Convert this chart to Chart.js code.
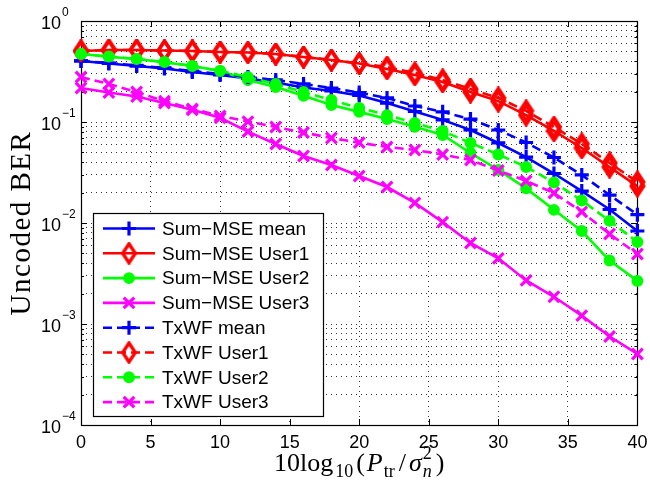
<!DOCTYPE html>
<html><head><meta charset="utf-8">
<script src="https://cdn.jsdelivr.net/npm/chart.js@4.4.1/dist/chart.umd.min.js"></script>
<style>html,body{margin:0;padding:0;background:#fff}</style>
</head><body>
<canvas id="c" width="650" height="482"></canvas>
<script>
// ---- data ----
const snr = [0,2,4,6,8,10,12,14,16,18,20,22,24,26,28,30,32,34,36,38,40];
const sumMseMean  = [0.402,0.380,0.358,0.339,0.313,0.292,0.270,0.246,0.220,0.203,0.183,0.154,0.127,0.105,0.0833,0.0620,0.0450,0.0309,0.0207,0.0136,0.00833];
const sumMseUser1 = [0.505,0.516,0.516,0.510,0.505,0.493,0.488,0.471,0.440,0.411,0.380,0.335,0.292,0.249,0.198,0.161,0.117,0.0815,0.0553,0.0358,0.0232];
const sumMseUser2 = [0.471,0.443,0.421,0.390,0.358,0.320,0.261,0.222,0.182,0.147,0.126,0.107,0.0898,0.0743,0.0493,0.0335,0.0220,0.0135,0.00833,0.00425,0.00267];
const sumMseUser3 = [0.217,0.196,0.179,0.154,0.132,0.110,0.0802,0.0606,0.0461,0.0375,0.0292,0.0227,0.0158,0.0102,0.00634,0.00447,0.00270,0.00186,0.00121,0.000752,0.000505];
const txwfMean    = [0.402,0.384,0.363,0.343,0.320,0.299,0.279,0.261,0.238,0.217,0.196,0.173,0.144,0.126,0.107,0.0833,0.0627,0.0445,0.0299,0.0189,0.0121];
const txwfUser1   = [0.505,0.516,0.516,0.510,0.505,0.493,0.488,0.471,0.440,0.411,0.380,0.350,0.306,0.261,0.212,0.173,0.129,0.0892,0.0606,0.0393,0.0255];
const txwfUser2   = [0.471,0.445,0.421,0.393,0.358,0.320,0.279,0.238,0.198,0.165,0.138,0.117,0.0978,0.0815,0.0620,0.0477,0.0359,0.0252,0.0167,0.0105,0.00648];
const txwfUser3   = [0.279,0.238,0.198,0.161,0.135,0.115,0.101,0.0892,0.0787,0.0694,0.0624,0.0566,0.0528,0.0477,0.0421,0.0331,0.0261,0.0198,0.0129,0.00778,0.00493];

const seriesNames = ['Sum\u2212MSE mean','Sum\u2212MSE User1','Sum\u2212MSE User2','Sum\u2212MSE User3',
                     'TxWF mean','TxWF User1','TxWF User2','TxWF User3'];
const xTicks = [0,5,10,15,20,25,30,35,40];
const yTickExps = [0,-1,-2,-3,-4];
const yTitle = 'Uncoded BER';

// ---- styles ----
const BLUE='#0000ff', RED='#ff0000', GREEN='#00ff00', MAG='#ff00ff';
const seriesData = [sumMseMean,sumMseUser1,sumMseUser2,sumMseUser3,txwfMean,txwfUser1,txwfUser2,txwfUser3];
const seriesColors = [BLUE,RED,GREEN,MAG,BLUE,RED,GREEN,MAG];
const seriesMarkers = ['cross','diamond','circle','crossRot','cross','diamond','circle','crossRot'];
const DASH=[9,5];
const markerOpts = {
  cross:{r:7,bw:3.2,fill:false},
  diamond:{r:10,bw:2.6,fill:false},
  circle:{r:5.2,bw:1.5,fill:true},
  crossRot:{r:7.5,bw:3.2,fill:false}
};

function makeDiamond(color){
  const w=17, h=23, c=document.createElement('canvas');
  c.width=w; c.height=h;
  const g=c.getContext('2d');
  g.strokeStyle=color; g.lineWidth=3.4; g.lineJoin='miter';
  g.beginPath();
  g.moveTo(w/2,2); g.lineTo(w-2.2,h/2); g.lineTo(w/2,h-2); g.lineTo(2.2,h/2); g.closePath();
  g.stroke();
  return c;
}
const diamondImg = makeDiamond(RED);

const datasets = seriesData.map((d,i)=>{
  const mk = seriesMarkers[i];
  const m = markerOpts[mk];
  return {
    label: seriesNames[i],
    data: snr.map((x,k)=>({x:x,y:d[k]})),
    borderColor: seriesColors[i],
    backgroundColor: seriesColors[i],
    borderWidth: 2.6,
    borderDash: i>=4 ? DASH : [],
    pointStyle: mk==='diamond' ? diamondImg : mk,
    pointRadius: m.r,
    pointHoverRadius: m.r,
    pointBorderWidth: m.bw,
    pointBorderColor: seriesColors[i],
    pointBackgroundColor: m.fill ? seriesColors[i] : 'rgba(0,0,0,0)',
    tension: 0,
    fill: false,
    clip: false,
    order: 8 - i
  };
});

function yGridValues(){
  const v=[];
  for(let e=-4;e<0;e++){ for(let s=1;s<=9;s++){ v.push(+(s*Math.pow(10,e)).toPrecision(3)); } }
  v.push(1);
  return v;
}

function drawMarker(ctx, style, x, y, color){
  const m = markerOpts[style];
  ctx.save();
  ctx.setLineDash([]);
  ctx.strokeStyle=color; ctx.fillStyle=color; ctx.lineWidth=m.bw;
  ctx.beginPath();
  if(style==='cross'){
    ctx.moveTo(x-m.r,y); ctx.lineTo(x+m.r,y); ctx.moveTo(x,y-m.r); ctx.lineTo(x,y+m.r); ctx.stroke();
  } else if(style==='crossRot'){
    const d=m.r*Math.SQRT1_2;
    ctx.moveTo(x-d,y-d); ctx.lineTo(x+d,y+d); ctx.moveTo(x+d,y-d); ctx.lineTo(x-d,y+d); ctx.stroke();
  } else if(style==='diamond'){
    ctx.drawImage(diamondImg, x-diamondImg.width/2, y-diamondImg.height/2);
  } else {
    ctx.arc(x,y,m.r,0,Math.PI*2); ctx.fill(); ctx.stroke();
  }
  ctx.restore();
}

const matlabPlugin = {
  id:'matlab',
  beforeDatasetsDraw(chart){
    const {ctx, chartArea:a, scales:{x,y}} = chart;
    ctx.save();
    ctx.setLineDash([]);
    ctx.strokeStyle='#000'; ctx.lineWidth=1;
    ctx.beginPath();
    xTicks.forEach(v=>{
      const px=Math.round(x.getPixelForValue(v))+0.5;
      ctx.moveTo(px,a.bottom); ctx.lineTo(px,a.bottom-6);
      ctx.moveTo(px,a.top); ctx.lineTo(px,a.top+6);
    });
    y.ticks.forEach(t=>{
      const py=Math.round(y.getPixelForValue(t.value))+0.5;
      const lg=Math.log10(t.value);
      const L = Math.abs(lg-Math.round(lg))<1e-6 ? 6 : 3;
      ctx.moveTo(a.left,py); ctx.lineTo(a.left+L,py);
      ctx.moveTo(a.right,py); ctx.lineTo(a.right-L,py);
    });
    ctx.stroke();
    ctx.lineWidth=1.2;
    ctx.strokeRect(Math.round(a.left)+0.5, Math.round(a.top)+0.5, Math.round(a.right-a.left), Math.round(a.bottom-a.top));
    ctx.restore();
  },
  afterDraw(chart){
    const {ctx, chartArea:a, scales:{x,y}} = chart;
    ctx.save();
    ctx.fillStyle='#000';
    // x tick labels
    ctx.font='18px "Liberation Sans", Arial, sans-serif';
    ctx.textAlign='center'; ctx.textBaseline='middle';
    xTicks.forEach(v=>{ ctx.fillText(String(v), x.getPixelForValue(v), a.bottom+18); });
    // y tick labels 10^e
    yTickExps.forEach(e=>{
      const py=y.getPixelForValue(Math.pow(10,e));
      ctx.font='18px "Liberation Sans", Arial, sans-serif';
      ctx.textAlign='right'; ctx.textBaseline='middle';
      ctx.fillText('10', a.left-20, py+3);
      ctx.font='12px "Liberation Sans", Arial, sans-serif';
      ctx.textAlign='left';
      ctx.fillText(e===0?'0':'\u2212'+Math.abs(e), a.left-19, py-8);
    });
    // y title
    ctx.save();
    ctx.translate(22,(a.top+a.bottom)/2);
    ctx.rotate(-Math.PI/2);
    ctx.font='29px "Liberation Serif", "Times New Roman", serif';
    try{ ctx.letterSpacing='1.5px'; }catch(err){}
    ctx.textAlign='center'; ctx.textBaseline='middle';
    ctx.fillText(yTitle,0,0);
    ctx.restore();
    // x title: 10log10(Ptr/σn^2)
    const big='26px "Liberation Serif", "Times New Roman", serif';
    const bigI='italic 26px "Liberation Serif", "Times New Roman", serif';
    const sm='18px "Liberation Serif", "Times New Roman", serif';
    const smI='italic 18px "Liberation Serif", "Times New Roman", serif';
    const pieces=[
      {t:'10log',f:big,dy:0,g:2},
      {t:'10',f:sm,dy:6,g:3},
      {t:'(',f:big,dy:0,g:2},
      {t:'P',f:bigI,dy:0,g:1},
      {t:'tr',f:sm,dy:6,g:4},
      {t:'/',f:big,dy:0,g:3},
      {t:'\u03c3',f:bigI,dy:0,g:1},
      {t:'n',f:smI,dy:6,g:4,stack:{t:'2',f:sm,dy:-12}},
      {t:')',f:big,dy:0,g:0}
    ];
    ctx.textAlign='left'; ctx.textBaseline='alphabetic';
    let tot=0;
    pieces.forEach(p=>{ctx.font=p.f; p.w=ctx.measureText(p.t).width; tot+=p.w+p.g;});
    let cx=(a.left+a.right)/2 - tot/2;
    const base=471;
    pieces.forEach(p=>{
      ctx.font=p.f; ctx.fillText(p.t,cx,base+p.dy);
      if(p.stack){ ctx.font=p.stack.f; ctx.fillText(p.stack.t,cx,base+p.stack.dy); }
      cx+=p.w+p.g;
    });
    // legend
    const lx=93, ly=213, lw=230, lh=203;
    ctx.fillStyle='#fff'; ctx.fillRect(lx,ly,lw,lh);
    ctx.strokeStyle='#000'; ctx.lineWidth=1.2; ctx.setLineDash([]);
    ctx.strokeRect(lx+0.5,ly+0.5,lw,lh);
    ctx.font='19px "Liberation Sans", Arial, sans-serif';
    ctx.textAlign='left'; ctx.textBaseline='middle';
    seriesNames.forEach((name,i)=>{
      const ry=228.5+i*24.8;
      ctx.save();
      ctx.strokeStyle=seriesColors[i]; ctx.lineWidth=2.6;
      ctx.setLineDash(i>=4?DASH:[]);
      ctx.beginPath(); ctx.moveTo(103,ry); ctx.lineTo(155,ry); ctx.stroke();
      ctx.restore();
      drawMarker(ctx, seriesMarkers[i], 129, ry, seriesColors[i]);
      ctx.fillStyle='#000';
      ctx.fillText(name,162,ry+1);
    });
    ctx.restore();
  }
};

new Chart(document.getElementById('c'), {
  type:'line',
  data:{datasets:datasets},
  options:{
    responsive:false,
    animation:false,
    devicePixelRatio:1,
    layout:{padding:{left:81,right:12,top:21,bottom:57}},
    plugins:{legend:{display:false},tooltip:{enabled:false},title:{display:false}},
    scales:{
      x:{type:'linear',min:0,max:40,
         ticks:{display:false,stepSize:5},
         afterBuildTicks:(s)=>{ s.ticks = xTicks.map(v=>({value:v})); },
         grid:{color:'#333',lineWidth:1,drawTicks:false},
         border:{display:false,dash:[1,4]}},
      y:{type:'logarithmic',min:1e-4,max:1,
         ticks:{display:false,autoSkip:false},
         afterBuildTicks:(s)=>{ s.ticks = yGridValues().map(v=>({value:v})); },
         grid:{color:'#333',lineWidth:1,drawTicks:false},
         border:{display:false,dash:[1,4]}}
    }
  },
  plugins:[matlabPlugin]
});
</script>
</body></html>
